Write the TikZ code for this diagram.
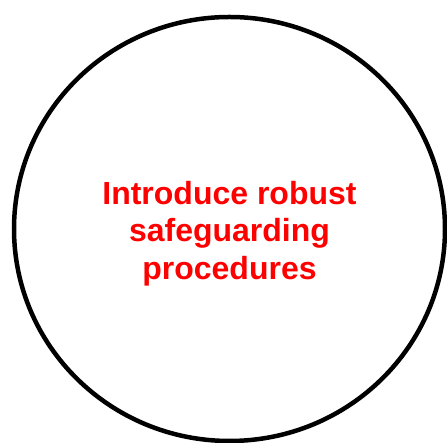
\documentclass[tikz,border=0pt]{standalone}
\usepackage{fontspec}
\setmainfont{Liberation Sans}
\begin{document}
\begin{tikzpicture}[x=1pt,y=1pt,
  ring/.style={draw=black,line width=4.5pt},
  label/.style={text=red,font=\bfseries\fontsize{32}{37.5}\selectfont,align=center,inner sep=0pt}]
\useasboundingbox (0,0) rectangle (447,443);
\begin{scope}
\clip (0,0) rectangle (447,443);
\draw[ring] (229.5,214) ellipse [x radius=215.5, y radius=212];
\end{scope}
\node[label] (t) at (229.5,209.5) {Introduce robust\\safeguarding\\procedures};
\end{tikzpicture}
\end{document}
